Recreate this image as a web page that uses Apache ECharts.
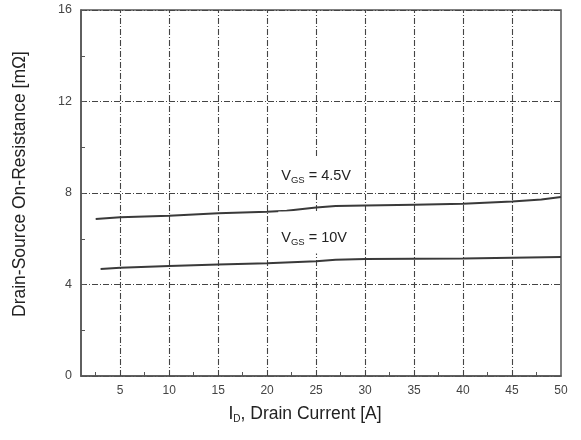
<!DOCTYPE html>
<html>
<head>
<meta charset="utf-8">
<script src="https://cdn.jsdelivr.net/npm/echarts@6/dist/echarts.min.js"></script>
<style>
html,body{margin:0;padding:0;background:#fff;}
#chart{width:581px;height:440px;}
</style>
</head>
<body>
<div id="chart"></div>
<script>
// Data
var id45 = [2.5, 5, 10, 15, 20, 22, 25, 27, 30, 35, 40, 45, 48, 50];
var r45 = [6.86, 6.94, 7.01, 7.11, 7.18, 7.22, 7.37, 7.43, 7.45, 7.49, 7.53, 7.63, 7.72, 7.83];
var id10 = [3, 5, 10, 15, 20, 25, 27, 30, 35, 40, 45, 50];
var r10 = [4.68, 4.73, 4.81, 4.87, 4.93, 5.02, 5.08, 5.11, 5.13, 5.14, 5.17, 5.2];
var xTickLabels = [5, 10, 15, 20, 25, 30, 35, 40, 45, 50];
var xMinorTicks = [2.5, 7.5, 12.5, 17.5, 22.5, 27.5, 32.5, 37.5, 42.5, 47.5];
var xGrid = [5, 10, 15, 20, 25, 30, 35, 40, 45];
var label45 = {x: 25.0, y: 8.81, sub: 'GS', text: ' = 4.5V'};
var label10 = {x: 24.8, y: 6.27, sub: 'GS', text: ' = 10V'};

function pairs(xs, ys){ return xs.map(function(x,i){ return [x, ys[i]]; }); }

var FONT = 'Liberation Sans, Arial, sans-serif';
var gridLine = {color:'#444', width:1.1, type:[6,2,1,2]};
var richLab = {
  a:{fontSize:14.5, color:'#222', fontFamily:FONT},
  s:{fontSize:9.5, color:'#222', fontFamily:FONT, padding:[9,0,0,0]}
};

var chart = echarts.init(document.getElementById('chart'), null, {renderer:'canvas'});
chart.setOption({
  animation:false,
  backgroundColor:'#fff',
  grid:{left:81, right:20, top:10, bottom:64, show:true, borderColor:'#555', borderWidth:1.5, backgroundColor:'transparent'},
  xAxis:{
    type:'value', min:1, max:50,
    axisLine:{show:true, lineStyle:{color:'#555', width:1.5}},
    axisTick:{show:true, inside:true, length:4, customValues:xMinorTicks, lineStyle:{color:'#555'}},
    axisLabel:{customValues:xTickLabels, color:'#444', fontSize:12, fontFamily:FONT, margin:9},
    splitLine:{show:false}
  },
  yAxis:{
    type:'value', min:0, max:16, interval:4,
    axisLine:{show:true, lineStyle:{color:'#555', width:1.5}},
    axisTick:{show:true, inside:true, length:4, lineStyle:{color:'#555'}},
    minorTick:{show:true, splitNumber:2, length:4, lineStyle:{color:'#555'}},
    axisLabel:{color:'#444', fontSize:12.5, fontFamily:FONT, margin:9},
    splitLine:{show:true, lineStyle:gridLine}
  },
  series:[
    {
      type:'line', data:pairs(id45, r45), showSymbol:false, symbol:'none',
      lineStyle:{color:'#3a3a3a', width:2}, z:5,
      markLine:{
        silent:true, symbol:'none', label:{show:false}, z:1,
        lineStyle:gridLine,
        data:xGrid.map(function(v){ return {xAxis:v}; })
      },
      markPoint:{
        symbol:'circle', symbolSize:0, z:10,
        label:{show:true, position:'inside', backgroundColor:'#fff', padding:[10,3,7,3],
          formatter:'{a|V}{s|' + label45.sub + '}{a|' + label45.text + '}', rich:richLab},
        data:[{coord:[label45.x, label45.y]}]
      }
    },
    {
      type:'line', data:pairs(id10, r10), showSymbol:false, symbol:'none',
      lineStyle:{color:'#3a3a3a', width:2}, z:5,
      markPoint:{
        symbol:'circle', symbolSize:0, z:10,
        label:{show:true, position:'inside', backgroundColor:'#fff', padding:[17,3,6,3],
          formatter:'{a|V}{s|' + label10.sub + '}{a|' + label10.text + '}', rich:richLab},
        data:[{coord:[label10.x, label10.y]}]
      }
    }
  ],
  graphic:[
    {
      type:'text', x:20, y:184, rotation:Math.PI/2,
      style:{text:'Drain-Source On-Resistance [mΩ]', fill:'#222', font:'17.5px ' + FONT, align:'center', verticalAlign:'middle'}
    },
    {
      type:'text', x:305, y:414,
      style:{
        text:'{a|I}{s|D}{a|, Drain Current [A]}', align:'center', verticalAlign:'middle',
        rich:{
          a:{fontSize:17.5, fill:'#222', fontFamily:FONT},
          s:{fontSize:10, fill:'#222', fontFamily:FONT, padding:[11,0,0,0]}
        }
      }
    }
  ]
});
</script>
</body>
</html>
